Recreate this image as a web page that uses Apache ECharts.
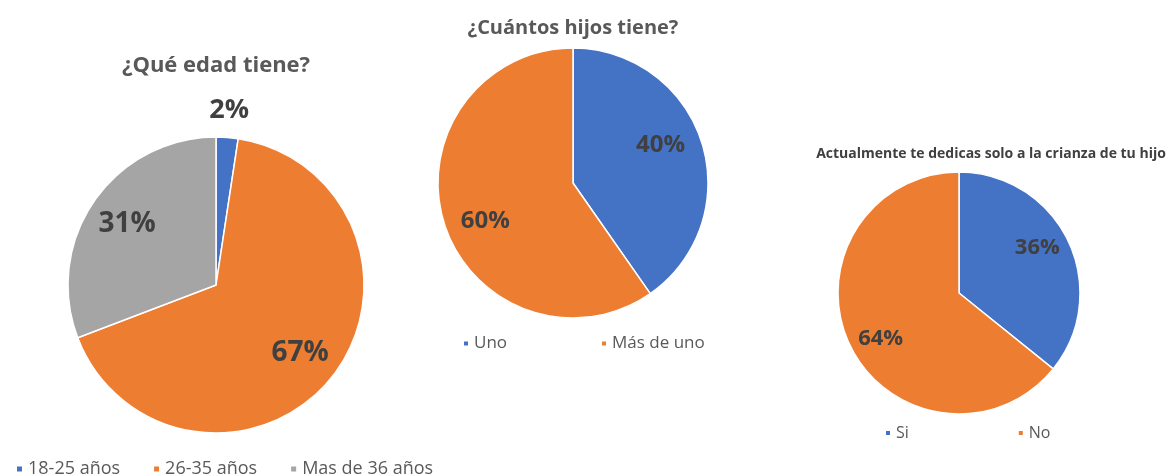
<!DOCTYPE html>
<html>
<head>
<meta charset="utf-8">
<script src="https://cdn.jsdelivr.net/npm/echarts@6/dist/echarts.min.js"></script>
<style>
  html, body { margin: 0; padding: 0; background: #fff; }
  #chart { width: 1166px; height: 475px; }
</style>
</head>
<body>
<div id="chart"></div>
<script>
// datos
const ageCats = ['18-25 años', '26-35 años', 'Mas de 36 años'];
const ageVals = [2.4, 66.8, 30.8];
const kidsCats = ['Uno', 'Más de uno'];
const kidsVals = [40.3, 59.7];
const careCats = ['Si', 'No'];
const careVals = [35.8, 64.2];

const COLORS = ['#4472C4', '#ED7D31', '#A5A5A5'];
const FONT = '"Open Sans", "Noto Sans", sans-serif';

const chart = echarts.init(document.getElementById('chart'));

function pie(center, r, cats, vals) {
  return {
    type: 'pie',
    center: center,
    radius: [0, r],
    startAngle: 90,
    clockwise: true,
    silent: true,
    label: { show: false },
    labelLine: { show: false },
    itemStyle: { borderColor: '#fff', borderWidth: 1.5 },
    data: cats.map((c, i) => ({ name: c, value: vals[i], itemStyle: { color: COLORS[i] } }))
  };
}

// serie transparente solo para colocar las etiquetas a cierta distancia
function labels(center, ringR, vals, showIdx, size, start) {
  return {
    type: 'pie',
    center: center,
    radius: [0, ringR],
    startAngle: start || 90,
    silent: true,
    z: 5,
    itemStyle: { color: 'rgba(0,0,0,0)' },
    labelLine: { show: false },
    label: {
      position: 'inside',
      color: '#404040',
      fontFamily: FONT,
      fontWeight: 'bold',
      fontSize: size,
      formatter: p => Math.round(p.percent) + '%'
    },
    data: vals.map((v, i) => ({ name: '', value: v, label: { show: showIdx.indexOf(i) >= 0 } }))
  };
}

const legendText = { color: '#595959', fontFamily: FONT };

chart.setOption({
  animation: false,
  title: [
    { text: '¿Qué edad tiene?', left: 211, top: 50, textAlign: 'center',
      textStyle: { color: '#595959', fontFamily: FONT, fontWeight: 'bold', fontSize: 22 } },
    { text: '¿Cuántos hijos tiene?', left: 568, top: 13, textAlign: 'center',
      textStyle: { color: '#595959', fontFamily: FONT, fontWeight: 'bold', fontSize: 20 } },
    { text: 'Actualmente te dedicas solo a la crianza de tu hijo', left: 986, top: 142, textAlign: 'center',
      textStyle: { color: '#404040', fontFamily: FONT, fontWeight: 'bold', fontSize: 14 } }
  ],
  legend: [
    { data: ageCats, left: 10, top: 455, icon: 'rect', itemWidth: 7, itemHeight: 7, itemGap: 32,
      textStyle: Object.assign({ fontSize: 18 }, legendText) },
    { data: kidsCats, left: 457, top: 330, icon: 'rect', itemWidth: 6, itemHeight: 6, itemGap: 93,
      textStyle: Object.assign({ fontSize: 17 }, legendText) },
    { data: careCats, left: 879, top: 420, icon: 'rect', itemWidth: 6, itemHeight: 6, itemGap: 108,
      textStyle: Object.assign({ fontSize: 16 }, legendText) }
  ],
  series: [
    pie([216, 285], 148, ageCats, ageVals),
    labels([216, 285], 210, ageVals, [1, 2], 28),
    labels([216, 285], 344, ageVals, [0], 27),
    pie([573, 183], 135, kidsCats, kidsVals),
    labels([573, 183], 185, kidsVals, [0, 1], 24, 96),
    pie([959, 293], 121, careCats, careVals),
    labels([959, 293], 175, careVals, [0, 1], 22, 94.5)
  ]
});
</script>
</body>
</html>
